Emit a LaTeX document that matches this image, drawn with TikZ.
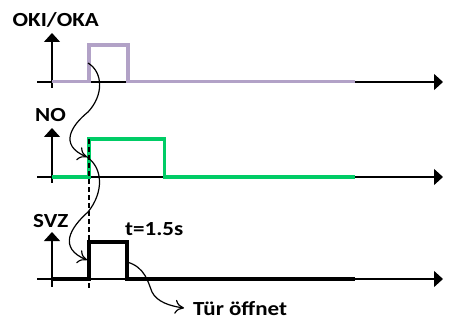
\documentclass[tikz,border=0pt]{standalone}
\usepackage{fontspec}
\usepackage{graphicx}
\setmainfont{Carlito}
\usetikzlibrary{arrows.meta}
\definecolor{okicol}{RGB}{178,162,199}
\definecolor{nocol}{RGB}{0,204,102}
\tikzset{
  axisline/.style={line width=1.3pt,-{Triangle[length=9pt,width=16pt]}},
  vaxis/.style={line width=1.3pt,{Triangle[length=9pt,width=16pt]}-},
  sig/.style={line width=3.8pt,line join=miter},
  lbl/.style={inner sep=0pt,anchor=base west,font=\bfseries\fontsize{20}{24}\selectfont},
  flow/.style={line width=1.2pt,-{Computer Modern Rightarrow[length=9pt,width=14pt]}},
  guide/.style={line width=1.3pt,dash pattern=on 5pt off 3pt}
}
\newcommand{\wide}[1]{\scalebox{1.15}[1]{#1}}
\begin{document}
\begin{tikzpicture}[x=1pt,y=-1pt]
\useasboundingbox (0,0) rectangle (449,323);
% labels
\node[lbl] (lOKI) at (12.5,27) {\wide{OKI/OKA}};
\node[lbl] (lNO) at (35,122) {\wide{NO}};
\node[lbl] (lSVZ) at (33,227) {\wide{SVZ}};
\node[lbl] (lT) at (125,235) {\wide{t=1.5s}};
\node[lbl] (lTuer) at (193,315) {\wide{Tür öffnet}};
% coordinates
\coordinate (o1) at (37,82); \coordinate (e1) at (443,82);
\coordinate (o2) at (37,177); \coordinate (e2) at (443,177);
\coordinate (o3) at (37,279); \coordinate (e3) at (443,279);
\coordinate (v1t) at (52,33); \coordinate (v1b) at (52,88);
\coordinate (v2t) at (52,128); \coordinate (v2b) at (52,183);
\coordinate (v3t) at (52,232); \coordinate (v3b) at (52,287);
% axes
\draw[axisline] (o1) -- (e1);
\draw[axisline] (o2) -- (e2);
\draw[axisline] (o3) -- (e3);
\draw[vaxis] (v1t) -- (v1b);
\draw[vaxis] (v2t) -- (v2b);
\draw[vaxis] (v3t) -- (v3b);
% signals
\draw[sig,okicol] (52,81.5) -- (89,81.5) -- (89,45) -- (128,45) -- (128,81.5) -- (355,81.5);
\draw[sig,nocol] (52,177) -- (89,177) -- (89,139) -- (164.5,139) -- (164.5,177) -- (355,177);
\draw[sig,black,line width=4.3pt] (52,279) -- (89,279) -- (89,242) -- (127,242) -- (127,279) -- (355,279);
% dashed guide
\coordinate (dtop) at (89,139); \coordinate (dbot) at (89,288);
\draw[guide] (dtop) -- (dbot);
% flow curves
\coordinate (c1s) at (88,63);
\coordinate (c1e) at (87,157);
\coordinate (c2e) at (87,260);
\coordinate (c3s) at (127,262);
\coordinate (c3e) at (184,308);
\draw[flow] (c1s) .. controls (103,72) and (104,95) .. (88,112)
  .. controls (72,125) and (58,145) .. (c1e);
\draw[flow] (c1e) .. controls (103,168) and (104,192) .. (88,212)
  .. controls (70,228) and (58,248) .. (c2e);
\draw[flow] (c3s) .. controls (145,267) and (148,282) .. (152,292)
  .. controls (157,302) and (170,306) .. (c3e);
\end{tikzpicture}
\end{document}
